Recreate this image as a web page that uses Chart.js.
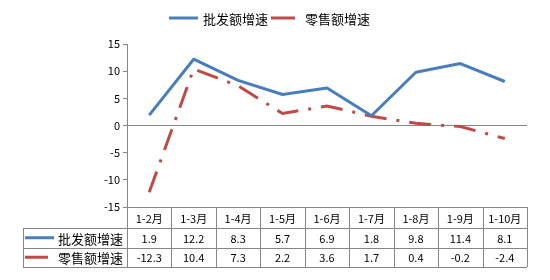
<!DOCTYPE html>
<html>
<head>
<meta charset="utf-8">
<script src="https://cdn.jsdelivr.net/npm/chart.js@4"></script>
<style>
body{margin:0;background:#fff;}
</style>
</head>
<body>
<canvas id="grafica" width="550" height="280"></canvas>
<script>
var categorias = ['1-2月','1-3月','1-4月','1-5月','1-6月','1-7月','1-8月','1-9月','1-10月'];
var pifa = [1.9, 12.2, 8.3, 5.7, 6.9, 1.8, 9.8, 11.4, 8.1];
var lingshou = [-12.3, 10.4, 7.3, 2.2, 3.6, 1.7, 0.4, -0.2, -2.4];
var nombres = ['批发额增速','零售额增速'];

var azul = '#4A7EBB';
var rojo = '#BE4B48';
var gris = '#868686';
var fuente = '"Noto Sans CJK SC", "Noto Sans", sans-serif';

function fmt(v){
    return v.toFixed(1);
}

// tabla de datos y leyenda dibujadas con las posiciones de la escala x
var tablaPlugin = {
    id:'tabla',
    afterDraw: function(chart){
        var ctx = chart.ctx;
        var area = chart.chartArea;
        var xs = chart.scales.x;
        var n = categorias.length;
        var ancho = (area.right-area.left)/n;
        var filas = [area.bottom, area.bottom+21, area.bottom+40.5, area.bottom+60];
        var izq = 23;
        ctx.save();
        ctx.strokeStyle = gris;
        ctx.lineWidth = 1;
        ctx.beginPath();
        // horizontales
        ctx.moveTo(area.left, filas[0]+0.5); ctx.lineTo(area.right, filas[0]+0.5);
        for(var r=1;r<4;r++){
            var yy = Math.round(filas[r])+0.5;
            ctx.moveTo(izq, yy); ctx.lineTo(area.right, yy);
        }
        // verticales
        for(var i=0;i<=n;i++){
            var xx = Math.round(area.left + i*ancho)+0.5;
            ctx.moveTo(xx, filas[0]); ctx.lineTo(xx, filas[3]);
        }
        ctx.moveTo(izq+0.5, filas[1]); ctx.lineTo(izq+0.5, filas[3]);
        ctx.stroke();

        ctx.fillStyle = '#000';
        ctx.textAlign = 'center';
        ctx.textBaseline = 'middle';
        ctx.font = '11px '+fuente;
        var series = [pifa, lingshou];
        for(var j=0;j<n;j++){
            var cx = xs.getPixelForValue(j);
            ctx.fillText(categorias[j], cx, (filas[0]+filas[1])/2+1);
            for(var s=0;s<2;s++){
                ctx.fillText(fmt(series[s][j]), cx, (filas[s+1]+filas[s+2])/2+1);
            }
        }
        // nombres de serie en la tabla
        ctx.textAlign = 'right';
        ctx.font = '13px '+fuente;
        var colores = [azul, rojo];
        var largos = [[25,54],[25,48]];
        for(var s=0;s<2;s++){
            var cy = (filas[s+1]+filas[s+2])/2;
            ctx.strokeStyle = colores[s];
            ctx.lineWidth = 3;
            ctx.beginPath();
            ctx.moveTo(largos[s][0], cy); ctx.lineTo(largos[s][1], cy);
            ctx.stroke();
            ctx.fillText(nombres[s], 123, cy+1);
        }
        // leyenda superior
        ctx.textAlign = 'left';
        var ley = [[169,198,203],[271,295,305]];
        for(var s=0;s<2;s++){
            ctx.strokeStyle = colores[s];
            ctx.lineWidth = 3;
            ctx.beginPath();
            ctx.moveTo(ley[s][0], 18); ctx.lineTo(ley[s][1], 18);
            ctx.stroke();
            ctx.fillText(nombres[s], ley[s][2], 19);
        }
        ctx.restore();
    }
};

var ctx = document.getElementById('grafica').getContext('2d');
var myChart = new Chart(ctx, {
    type: 'line',
    data: {
        labels: categorias,
        datasets: [{
            label: nombres[0],
            data: pifa,
            borderColor: azul,
            backgroundColor: azul,
            borderWidth: 3,
            borderJoinStyle: 'round',
            pointRadius: 0,
            tension: 0
        },{
            label: nombres[1],
            data: lingshou,
            borderColor: rojo,
            backgroundColor: rojo,
            borderWidth: 3,
            borderDash: [22,10,3,10],
            pointRadius: 0,
            tension: 0
        }]
    },
    options: {
        responsive: false,
        animation: false,
        layout: {
            padding: {left:0, right:23, top:44, bottom:73}
        },
        scales: {
            x: {
                display: false,
                offset: true
            },
            y: {
                min: -15,
                max: 15,
                afterFit: function(s){ s.width = 127; },
                ticks: {
                    stepSize: 5,
                    color: '#000',
                    padding: 3,
                    font: {size: 11, family: fuente}
                },
                grid: {
                    color: function(c){ return (c.tick && c.tick.value === 0) ? gris : 'rgba(0,0,0,0)'; },
                    tickColor: gris,
                    tickLength: 4,
                    lineWidth: 1
                },
                border: {
                    color: gris
                }
            }
        },
        plugins: {
            legend: { display: false },
            tooltip: { enabled: false }
        }
    },
    plugins: [tablaPlugin]
});
</script>
</body>
</html>
